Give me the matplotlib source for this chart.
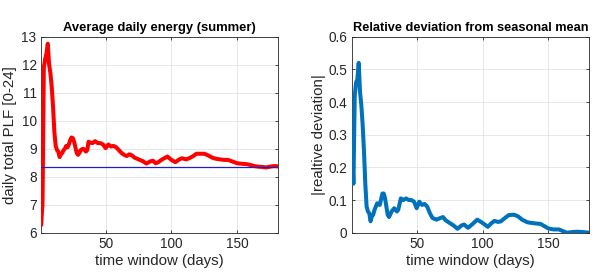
import matplotlib
matplotlib.use("Agg")
import matplotlib.pyplot as plt

plt.rcParams['font.family'] = ['Liberation Sans', 'DejaVu Sans']

# ---- data ----
left_days = [1, 2, 3, 4, 5, 6, 7, 8, 9, 10, 11, 12, 13, 14, 15, 16, 17, 18, 19, 20,
             21, 22, 23, 24, 25, 26, 27, 28, 29, 30, 31, 32, 33, 34, 35, 36, 37, 38,
             40, 42, 44, 46, 48, 50, 52, 54, 56, 58, 60, 62, 64, 66, 68, 70, 72, 75,
             78, 81, 84, 86, 88, 90, 93, 97, 100, 103, 106, 108, 111, 113, 116, 119,
             122, 125, 128, 131, 134, 137, 140, 143, 146, 150, 154, 157, 160, 163,
             166, 169, 172, 175, 178, 181]
left_energy = [6.3, 7.1, 11.9, 12.2, 12.4, 12.75, 12.0, 11.7, 11.2, 10.5, 9.6, 9.1,
               8.95, 8.9, 8.7, 8.8, 8.85, 8.95, 9.0, 9.1, 9.05, 9.15, 9.3, 9.4, 9.38,
               9.25, 9.05, 8.85, 8.78, 8.85, 8.95, 8.98, 9.0, 8.95, 8.9, 8.95, 9.25,
               9.22, 9.2, 9.27, 9.2, 9.2, 9.15, 9.02, 9.15, 9.08, 9.1, 9.05, 8.95,
               8.85, 8.78, 8.74, 8.8, 8.76, 8.68, 8.62, 8.56, 8.47, 8.55, 8.57, 8.48,
               8.52, 8.62, 8.72, 8.6, 8.52, 8.62, 8.66, 8.62, 8.65, 8.72, 8.82, 8.82,
               8.82, 8.76, 8.68, 8.64, 8.62, 8.6, 8.6, 8.55, 8.48, 8.46, 8.45, 8.42,
               8.38, 8.36, 8.35, 8.33, 8.36, 8.38, 8.37]
seasonal_mean = 8.36

right_days = [1, 2, 3, 4, 5, 6, 7, 8, 9, 10, 11, 12, 13, 14, 15, 16, 17, 18, 20, 22,
              24, 25, 26, 27, 28, 29, 31, 33, 35, 36, 38, 40, 42, 44, 46, 48, 50, 52,
              54, 56, 58, 60, 62, 65, 68, 70, 72, 75, 78, 81, 84, 86, 89, 92, 96, 100,
              104, 107, 109, 112, 114, 117, 120, 124, 127, 130, 134, 137, 141, 144,
              147, 150, 154, 158, 161, 164, 168, 172, 176, 181]
right_dev = [0.25, 0.15, 0.42, 0.46, 0.47, 0.52, 0.43, 0.39, 0.33, 0.25, 0.15, 0.08,
             0.065, 0.06, 0.035, 0.05, 0.055, 0.07, 0.09, 0.085, 0.12, 0.12, 0.105,
             0.08, 0.055, 0.048, 0.065, 0.075, 0.065, 0.07, 0.105, 0.1, 0.105, 0.1,
             0.1, 0.095, 0.075, 0.095, 0.085, 0.088, 0.08, 0.06, 0.045, 0.04, 0.045,
             0.048, 0.038, 0.03, 0.022, 0.012, 0.022, 0.025, 0.015, 0.025, 0.04, 0.03,
             0.018, 0.03, 0.036, 0.033, 0.035, 0.045, 0.054, 0.055, 0.05, 0.04, 0.032,
             0.03, 0.028, 0.027, 0.02, 0.013, 0.01, 0.01, 0.005, 0.0, 0.002, 0.003,
             0.002, 0.0]

x_ticks = [50, 100, 150]
left_yticks = [6, 7, 8, 9, 10, 11, 12, 13]
right_yticks = [0, 0.1, 0.2, 0.3, 0.4, 0.5, 0.6]
right_yticklabels = ['0', '0.1', '0.2', '0.3', '0.4', '0.5', '0.6']

fig = plt.figure(figsize=(6.0, 2.74), dpi=100)
ax1 = fig.add_axes([0.0678, 0.1507, 0.3955, 0.7153])
ax2 = fig.add_axes([0.586, 0.1507, 0.396, 0.7153])


def style(ax):
    ax.grid(True, color='#e3e3e3', linewidth=0.6)
    ax.set_axisbelow(True)
    for s in ax.spines.values():
        s.set_color('#262626')
        s.set_linewidth(0.6)
    ax.tick_params(direction='in', length=2.5, width=0.6, top=True, right=True,
                   labelsize=9.8, colors='#262626', pad=3)
    ax.set_xlim(0.6, 181)
    ax.set_xticks(x_ticks)
    ax.set_xlabel('time window (days)', fontsize=10.8, color='#262626', labelpad=2)


ax1.plot(left_days, left_energy, color='#ff0000', linewidth=2.9, zorder=3)
ax1.axhline(seasonal_mean, color='#2020c0', linewidth=0.9, zorder=4)
style(ax1)
ax1.set_ylim(6, 13)
ax1.set_yticks(left_yticks)
ax1.set_ylabel('daily total PLF [0-24]', fontsize=10.8, color='#262626', labelpad=3)
ax1.set_title('Average daily energy (summer)', fontsize=9.4, fontweight='bold',
              pad=4)

ax2.plot(right_days, right_dev, color='#0072bd', linewidth=2.9, zorder=3)
style(ax2)
ax2.set_ylim(0, 0.6)
ax2.set_yticks(right_yticks)
ax2.set_yticklabels(right_yticklabels)
ax2.set_ylabel('|realtive deviation|', fontsize=10.8, color='#262626', labelpad=2)
ax2.set_title('Relative deviation from seasonal mean', fontsize=9.2,
              fontweight='bold', pad=4)

fig.savefig('out.png', dpi=100)
